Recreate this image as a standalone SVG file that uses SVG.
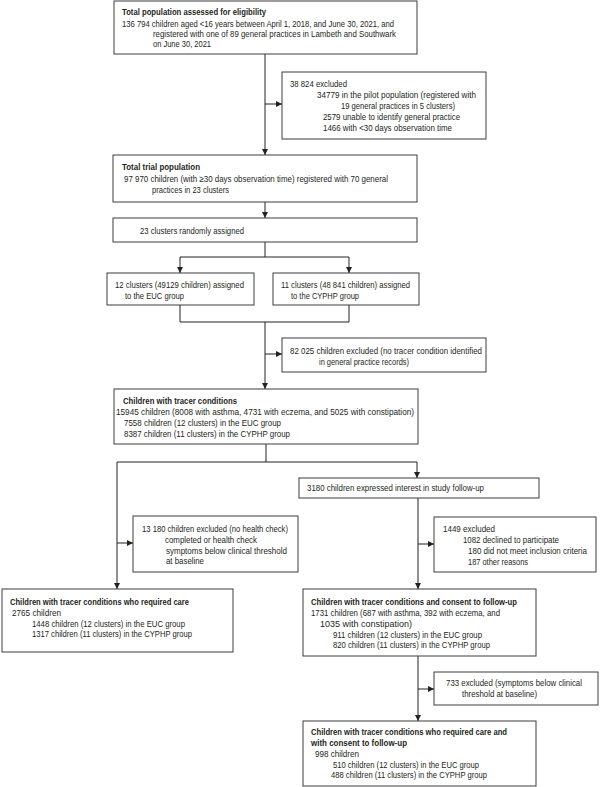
<svg xmlns="http://www.w3.org/2000/svg" width="600" height="787" viewBox="0 0 600 787">
<defs>
<style>
.box{fill:#fff;stroke:#3c3c3c;stroke-width:1}
.ln{fill:none;stroke:#222;stroke-width:1}
text{font-family:"Liberation Sans",Arial,sans-serif;font-size:9px;fill:#231f20}
.b{font-weight:bold}
.s{font-size:8.2px}
</style>
<marker id="ah" markerUnits="userSpaceOnUse" markerWidth="6" markerHeight="6" refX="6" refY="3" orient="auto">
<path d="M0,0 L6,3 L0,6 Z" fill="#222"/>
</marker>
</defs>
<rect width="600" height="787" fill="#fff"/>
<g id="connectors">
<path class="ln" d="M265,54 V155" marker-end="url(#ah)"/>
<path class="ln" d="M265,104 H282" marker-end="url(#ah)"/>
<path class="ln" d="M265,202 V218" marker-end="url(#ah)"/>
<path class="ln" d="M265,242 V257 M180,257 H349"/>
<path class="ln" d="M180,257 V273" marker-end="url(#ah)"/>
<path class="ln" d="M349,257 V273" marker-end="url(#ah)"/>
<path class="ln" d="M180,305 V322 H349 V305"/>
<path class="ln" d="M265,322 V389" marker-end="url(#ah)"/>
<path class="ln" d="M265,354 H282" marker-end="url(#ah)"/>
<path class="ln" d="M266,444 V462 M117,462 H417"/>
<path class="ln" d="M417,462 V478" marker-end="url(#ah)"/>
<path class="ln" d="M117,462 V589" marker-end="url(#ah)"/>
<path class="ln" d="M117,543 H133" marker-end="url(#ah)"/>
<path class="ln" d="M418,498 V589" marker-end="url(#ah)"/>
<path class="ln" d="M418,544 H434" marker-end="url(#ah)"/>
<path class="ln" d="M418,656 V721" marker-end="url(#ah)"/>
<path class="ln" d="M418,689 H434" marker-end="url(#ah)"/>
</g>
<g id="n_total">
<rect class="box" x="114" y="1" width="303" height="53"/>
<text class="b" x="122" y="15" textLength="144" lengthAdjust="spacingAndGlyphs">Total population assessed for eligibility</text>
<text x="122" y="27" textLength="272" lengthAdjust="spacingAndGlyphs">136 794 children aged &lt;16 years between April 1, 2018, and June 30, 2021, and</text>
<text x="153" y="37" textLength="243" lengthAdjust="spacingAndGlyphs">registered with one of 89 general practices in Lambeth and Southwark</text>
<text x="153" y="47" textLength="58" lengthAdjust="spacingAndGlyphs">on June 30, 2021</text>
</g>
<g id="n_excl1">
<rect class="box" x="282" y="72" width="204" height="67"/>
<text x="290" y="87" textLength="57" lengthAdjust="spacingAndGlyphs">38 824 excluded</text>
<text x="317" y="98" textLength="159" lengthAdjust="spacingAndGlyphs">34779 in the pilot population (registered with</text>
<text x="341" y="109" textLength="114" lengthAdjust="spacingAndGlyphs">19 general practices in 5 clusters)</text>
<text x="323" y="120" textLength="137" lengthAdjust="spacingAndGlyphs">2579 unable to identify general practice</text>
<text x="323" y="131" textLength="129" lengthAdjust="spacingAndGlyphs">1466 with &lt;30 days observation time</text>
</g>
<g id="n_trial">
<rect class="box" x="113" y="155" width="304" height="47"/>
<text class="b" x="122" y="170" textLength="78" lengthAdjust="spacingAndGlyphs">Total trial population</text>
<text x="124" y="182" textLength="264" lengthAdjust="spacingAndGlyphs">97 970 children (with ≥30 days observation time) registered with 70 general</text>
<text x="152" y="193" textLength="77" lengthAdjust="spacingAndGlyphs">practices in 23 clusters</text>
</g>
<g id="n_random">
<rect class="box" x="113" y="218" width="304" height="24"/>
<text x="140" y="234" textLength="104" lengthAdjust="spacingAndGlyphs">23 clusters randomly assigned</text>
</g>
<g id="n_euc">
<rect class="box" x="107" y="273" width="147" height="32"/>
<text x="115" y="288" textLength="129" lengthAdjust="spacingAndGlyphs">12 clusters (49129 children) assigned</text>
<text x="125" y="299" textLength="59" lengthAdjust="spacingAndGlyphs">to the EUC group</text>
</g>
<g id="n_cyphp">
<rect class="box" x="273" y="273" width="146" height="32"/>
<text x="281" y="288" textLength="129" lengthAdjust="spacingAndGlyphs">11 clusters (48 841 children) assigned</text>
<text x="291" y="299" textLength="68" lengthAdjust="spacingAndGlyphs">to the CYPHP group</text>
</g>
<g id="n_excl2">
<rect class="box" x="282" y="338" width="204" height="34"/>
<text x="290" y="354" textLength="192" lengthAdjust="spacingAndGlyphs">82 025 children excluded (no tracer condition identified</text>
<text x="319" y="365" textLength="90" lengthAdjust="spacingAndGlyphs">in general practice records)</text>
</g>
<g id="n_tracer">
<rect class="box" x="114" y="389" width="304" height="55"/>
<text class="b" x="123" y="404" textLength="114" lengthAdjust="spacingAndGlyphs">Children with tracer conditions</text>
<text x="116" y="415" textLength="298" lengthAdjust="spacingAndGlyphs">15945 children (8008 with asthma, 4731 with eczema, and 5025 with constipation)</text>
<text x="124" y="426" textLength="157" lengthAdjust="spacingAndGlyphs">7558 children (12 clusters) in the EUC group</text>
<text x="124" y="437" textLength="166" lengthAdjust="spacingAndGlyphs">8387 children (11 clusters) in the CYPHP group</text>
</g>
<g id="n_interest">
<rect class="box" x="299" y="478" width="240" height="20"/>
<text x="307" y="491" textLength="177" lengthAdjust="spacingAndGlyphs">3180 children expressed interest in study follow-up</text>
</g>
<g id="n_excl3">
<rect class="box" x="133" y="516" width="165" height="56"/>
<text x="142" y="532" textLength="146" lengthAdjust="spacingAndGlyphs">13 180 children excluded (no health check)</text>
<text x="165" y="543" textLength="92" lengthAdjust="spacingAndGlyphs">completed or health check</text>
<text x="166" y="554" textLength="121" lengthAdjust="spacingAndGlyphs">symptoms below clinical threshold</text>
<text x="166" y="564" textLength="38" lengthAdjust="spacingAndGlyphs">at baseline</text>
</g>
<g id="n_care">
<rect class="box" x="2" y="589" width="231" height="63"/>
<text class="b" x="10" y="605" textLength="179" lengthAdjust="spacingAndGlyphs">Children with tracer conditions who required care</text>
<text x="12" y="616" textLength="49" lengthAdjust="spacingAndGlyphs">2765 children</text>
<text x="32" y="627" textLength="153" lengthAdjust="spacingAndGlyphs">1448 children (12 clusters) in the EUC group</text>
<text x="32" y="637" textLength="160" lengthAdjust="spacingAndGlyphs">1317 children (11 clusters) in the CYPHP group</text>
</g>
<g id="n_excl4">
<rect class="box" x="434" y="517" width="162" height="55"/>
<text x="443" y="532" textLength="52" lengthAdjust="spacingAndGlyphs">1449 excluded</text>
<text x="463" y="543" textLength="96" lengthAdjust="spacingAndGlyphs">1082 declined to participate</text>
<text class="s" x="468" y="554" textLength="119" lengthAdjust="spacingAndGlyphs">180 did not meet inclusion criteria</text>
<text x="468" y="565" textLength="60" lengthAdjust="spacingAndGlyphs">187 other reasons</text>
</g>
<g id="n_consent">
<rect class="box" x="303" y="589" width="233" height="67"/>
<text class="b" x="311" y="605" textLength="206" lengthAdjust="spacingAndGlyphs">Children with tracer conditions and consent to follow-up</text>
<text x="311" y="616" textLength="189" lengthAdjust="spacingAndGlyphs">1731 children (687 with asthma, 392 with eczema, and</text>
<text x="320" y="627" textLength="92" lengthAdjust="spacingAndGlyphs">1035 with constipation)</text>
<text x="333" y="638" textLength="149" lengthAdjust="spacingAndGlyphs">911 children (12 clusters) in the EUC group</text>
<text x="333" y="648" textLength="157" lengthAdjust="spacingAndGlyphs">820 children (11 clusters) in the CYPHP group</text>
</g>
<g id="n_excl5">
<rect class="box" x="434" y="672" width="164" height="33"/>
<text class="s" x="446" y="686" textLength="136" lengthAdjust="spacingAndGlyphs">733 excluded (symptoms below clinical</text>
<text x="462" y="697" textLength="75" lengthAdjust="spacingAndGlyphs">threshold at baseline)</text>
</g>
<g id="n_final">
<rect class="box" x="303" y="721" width="233" height="65"/>
<text class="b" x="311" y="735" textLength="196" lengthAdjust="spacingAndGlyphs">Children with tracer conditions who required care and</text>
<text class="b" x="311" y="746" textLength="96" lengthAdjust="spacingAndGlyphs">with consent to follow-up</text>
<text x="315" y="757" textLength="44" lengthAdjust="spacingAndGlyphs">998 children</text>
<text x="333" y="768" textLength="146" lengthAdjust="spacingAndGlyphs">510 children (12 clusters) in the EUC group</text>
<text x="331" y="778" textLength="156" lengthAdjust="spacingAndGlyphs">488 children (11 clusters) in the CYPHP group</text>
</g>
</svg>
